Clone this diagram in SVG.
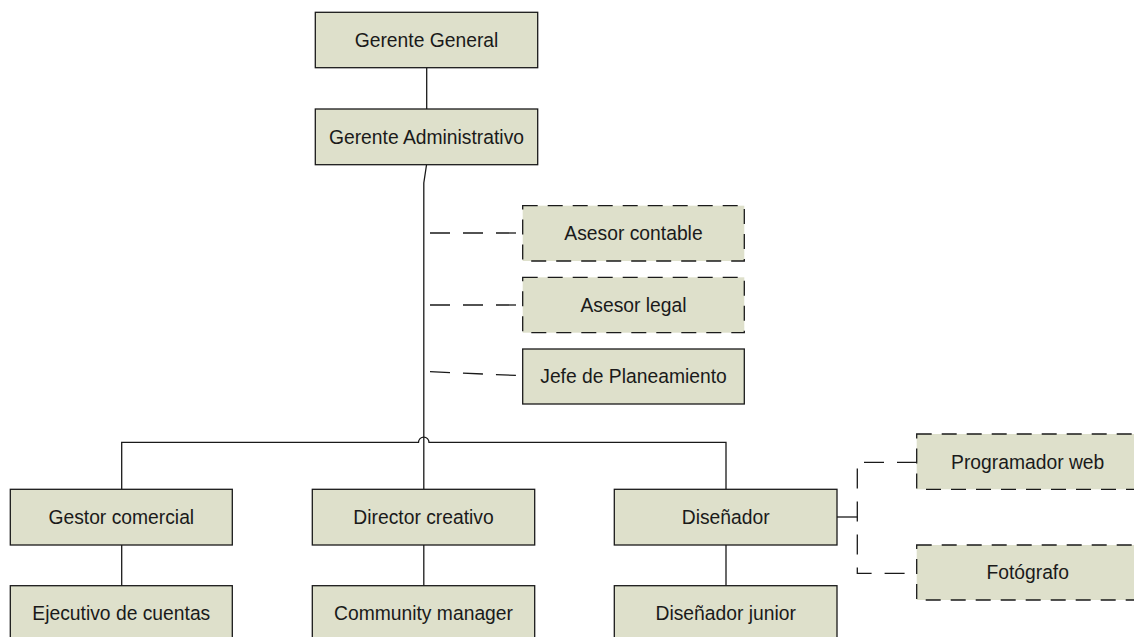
<svg xmlns="http://www.w3.org/2000/svg" width="1134" height="637" viewBox="0 0 1134 637">
  <style>
    .box { fill: #dee0cb; stroke: #1a1a1a; stroke-width: 1.3; }
    .dashed { stroke-dasharray: 15 10; }
    .label { font-family: "Liberation Sans", Arial, sans-serif; font-size: 19.3px; fill: #1a1a1a; text-anchor: middle; }
    .line { fill: none; stroke: #1a1a1a; stroke-width: 1.3; }
    .dline { fill: none; stroke: #1a1a1a; stroke-width: 1.3; stroke-dasharray: 20 13; }
  </style>
  <rect width="1134" height="637" fill="#ffffff"/>

  <!-- connectors -->
  <g id="connectors">
    <line class="line" x1="426.7" y1="68" x2="426.7" y2="109"/>
    <polyline class="line" points="426.5,165 423.8,183 423.8,489"/>
    <!-- branch bar with a hop where the trunk crosses it -->
    <path class="line" d="M121.7,489 V442.3 H418.5 A5.2,5.2 0 0 1 429,442.3 H726 V489"/>
    <line class="line" x1="121.7" y1="545" x2="121.7" y2="586"/>
    <line class="line" x1="423.8" y1="545" x2="423.8" y2="586"/>
    <line class="line" x1="726" y1="545" x2="726" y2="586"/>
    <!-- staff links -->
    <line class="dline" x1="430" y1="233" x2="523" y2="233"/>
    <line class="dline" x1="430" y1="305" x2="523" y2="305"/>
    <line class="dline" x1="430" y1="371.7" x2="523" y2="375.7"/>
    <line class="line" x1="837" y1="517" x2="857.3" y2="517"/>
    <path class="dline" d="M917,462.3 H857.3 V573.3 H917"/>
  </g>

  <g id="gerente-general">
    <rect class="box" x="315.3" y="12.3" width="222.4" height="55.4"/>
    <text class="label" x="426.5" y="46.8">Gerente General</text>
  </g>
  <g id="gerente-administrativo">
    <rect class="box" x="315.3" y="109" width="222.4" height="55.7"/>
    <text class="label" x="426.5" y="143.7">Gerente Administrativo</text>
  </g>
  <g id="asesor-contable">
    <rect class="box dashed" x="522.7" y="205.7" width="221.6" height="55.3"/>
    <text class="label" x="633.5" y="240.2">Asesor contable</text>
  </g>
  <g id="asesor-legal">
    <rect class="box dashed" x="522.7" y="277.3" width="221.6" height="55.4"/>
    <text class="label" x="633.5" y="311.9">Asesor legal</text>
  </g>
  <g id="jefe-planeamiento">
    <rect class="box" x="522.7" y="349" width="221.6" height="55"/>
    <text class="label" x="633.5" y="383.4">Jefe de Planeamiento</text>
  </g>
  <g id="gestor-comercial">
    <rect class="box" x="10.3" y="489.3" width="222" height="55.7"/>
    <text class="label" x="121.3" y="524">Gestor comercial</text>
  </g>
  <g id="director-creativo">
    <rect class="box" x="312.3" y="489.3" width="222.4" height="55.7"/>
    <text class="label" x="423.5" y="524">Director creativo</text>
  </g>
  <g id="disenador">
    <rect class="box" x="614.3" y="489.3" width="222.7" height="55.7"/>
    <text class="label" x="725.7" y="524">Diseñador</text>
  </g>
  <g id="ejecutivo-cuentas">
    <rect class="box" x="10.3" y="585.7" width="222" height="55.7"/>
    <text class="label" x="121.3" y="620.4">Ejecutivo de cuentas</text>
  </g>
  <g id="community-manager">
    <rect class="box" x="312.3" y="585.7" width="222.4" height="55.7"/>
    <text class="label" x="423.5" y="620.4">Community manager</text>
  </g>
  <g id="disenador-junior">
    <rect class="box" x="614.3" y="585.7" width="222.7" height="55.7"/>
    <text class="label" x="725.7" y="620.4">Diseñador junior</text>
  </g>
  <g id="programador-web">
    <rect class="box dashed" x="916.7" y="434" width="222" height="55.3"/>
    <text class="label" x="1027.7" y="468.6">Programador web</text>
  </g>
  <g id="fotografo">
    <rect class="box dashed" x="916.7" y="545" width="222" height="55"/>
    <text class="label" x="1027.7" y="579.4">Fotógrafo</text>
  </g>
</svg>
